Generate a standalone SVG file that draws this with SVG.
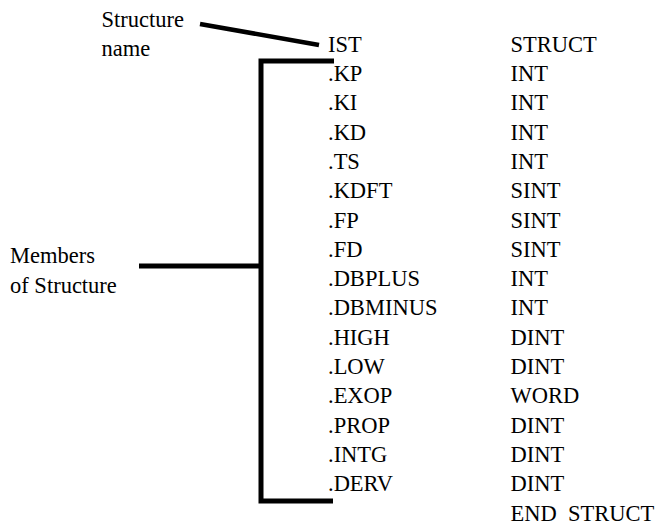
<svg xmlns="http://www.w3.org/2000/svg" width="665" height="526" viewBox="0 0 665 526">
<style>
.ln{stroke:#000;stroke-width:5;fill:none}
.pre{white-space:pre}
</style>
<rect width="665" height="526" fill="#fff"/>
<g id="connectors">
<line class="ln" x1="200" y1="24" x2="319" y2="45" style="stroke-width:4.5"/>
<path class="ln" d="M334,61 H261 V501 H333"/>
<line class="ln" x1="139" y1="266" x2="261" y2="266"/>
</g>
<g font-family="Liberation Serif, Tinos, Times New Roman, Times, Noto Serif, DejaVu Serif, FreeSerif, serif" font-size="22.5" fill="#000">
<g id="label-structure-name">
<text x="101.5" y="27.3">Structure</text>
<text x="101.5" y="56">name</text>
</g>
<g id="label-members">
<text x="10" y="262.7">Members</text>
<text x="10" y="292.7">of Structure</text>
</g>
<g id="members">
<text x="328" y="51.7">IST</text>
<text x="328" y="81">.KP</text>
<text x="328" y="110.3">.KI</text>
<text x="328" y="139.6">.KD</text>
<text x="328" y="168.9">.TS</text>
<text x="328" y="198.2">.KDFT</text>
<text x="328" y="227.5">.FP</text>
<text x="328" y="256.8">.FD</text>
<text x="328" y="286.1">.DBPLUS</text>
<text x="328" y="315.4">.DBMINUS</text>
<text x="328" y="344.7">.HIGH</text>
<text x="328" y="374">.LOW</text>
<text x="328" y="403.3">.EXOP</text>
<text x="328" y="432.6">.PROP</text>
<text x="328" y="461.9">.INTG</text>
<text x="328" y="491.2">.DERV</text>
</g>
<g id="types">
<text x="510.5" y="51.7">STRUCT</text>
<text x="510.5" y="81">INT</text>
<text x="510.5" y="110.3">INT</text>
<text x="510.5" y="139.6">INT</text>
<text x="510.5" y="168.9">INT</text>
<text x="510.5" y="198.2">SINT</text>
<text x="510.5" y="227.5">SINT</text>
<text x="510.5" y="256.8">SINT</text>
<text x="510.5" y="286.1">INT</text>
<text x="510.5" y="315.4">INT</text>
<text x="510.5" y="344.7">DINT</text>
<text x="510.5" y="374">DINT</text>
<text x="510.5" y="403.3">WORD</text>
<text x="510.5" y="432.6">DINT</text>
<text x="510.5" y="461.9">DINT</text>
<text x="510.5" y="491.2">DINT</text>
<text class="pre" x="510.5" y="520.5">END  STRUCT</text>
</g>
</g>
</svg>
